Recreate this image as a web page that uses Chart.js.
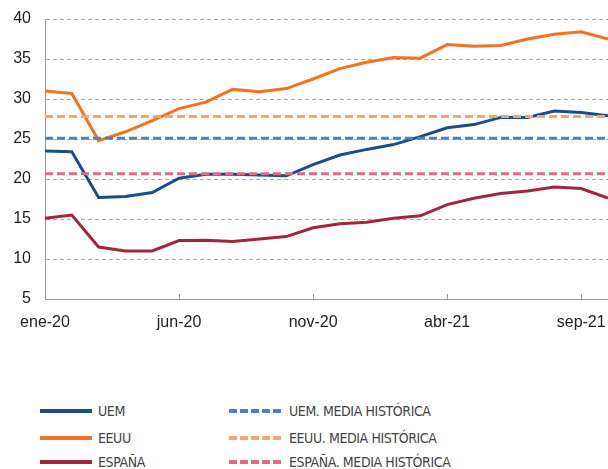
<!DOCTYPE html>
<html lang="es">
<head>
<meta charset="utf-8">
<script src="https://cdn.jsdelivr.net/npm/chart.js@4.4.1/dist/chart.umd.min.js"></script>
<style>
  html, body { margin: 0; padding: 0; background: #fff; }
  #wrap { position: relative; width: 608px; height: 469px; overflow: hidden; }
  #chart { position: absolute; left: 0; top: 0; }
  .leg {
    position: absolute;
    font-family: "Liberation Sans Narrow", "DejaVu Sans Condensed", sans-serif;
    font-size: 14px;
    letter-spacing: -0.4px;
    color: #444;
    white-space: nowrap;
    line-height: 16px;
  }
  .leg .sw { position: absolute; width: 52px; height: 4px; top: 6px; left: 0; }
  .leg span { position: absolute; top: 0; }
</style>
</head>
<body>
<div id="wrap">
  <canvas id="chart" width="608" height="340"></canvas>
  <div id="legend"></div>
</div>
<script>
// meses, ene-20 .. oct-21
const months = [
  "ene-20", "feb-20", "mar-20", "abr-20", "may-20", "jun-20",
  "jul-20", "ago-20", "sep-20", "oct-20", "nov-20", "dic-20",
  "ene-21", "feb-21", "mar-21", "abr-21", "may-21", "jun-21",
  "jul-21", "ago-21", "sep-21", "oct-21"
];

const uem = [23.5, 23.4, 17.7, 17.8, 18.3, 20.1, 20.6, 20.6, 20.5, 20.4, 21.8,
  23.0, 23.7, 24.3, 25.3, 26.4, 26.8, 27.7, 27.7, 28.5, 28.3, 27.9];
const eeuu = [31.0, 30.7, 24.8, 25.9, 27.3, 28.8, 29.6, 31.2, 30.9, 31.3, 32.5,
  33.8, 34.6, 35.2, 35.1, 36.8, 36.6, 36.7, 37.5, 38.1, 38.4, 37.5];
const espana = [15.1, 15.5, 11.5, 11.0, 11.0, 12.3, 12.35, 12.2, 12.5, 12.8, 13.9,
  14.4, 14.6, 15.1, 15.4, 16.8, 17.6, 18.2, 18.5, 19.0, 18.8, 17.6];

// medias historicas (constantes)
const uemMedia = 25.1;
const eeuuMedia = 27.8;
const espanaMedia = 20.65;

const yTicks = [5, 10, 15, 20, 25, 30, 35, 40];

function flat(v) {
  return months.map(() => v);
}

const series = [
  { label: "UEM", data: uem, color: "#1b4c8c", dash: false, col: 0, row: 0 },
  { label: "EEUU", data: eeuu, color: "#f37321", dash: false, col: 0, row: 1 },
  { label: "ESPAÑA", data: espana, color: "#a1273f", dash: false, col: 0, row: 2 },
  { label: "UEM. MEDIA HISTÓRICA", data: flat(uemMedia), color: "#4a80c6", dash: true, col: 1, row: 0 },
  { label: "EEUU. MEDIA HISTÓRICA", data: flat(eeuuMedia), color: "#f9a46c", dash: true, col: 1, row: 1 },
  { label: "ESPAÑA. MEDIA HISTÓRICA", data: flat(espanaMedia), color: "#e06b7c", dash: true, col: 1, row: 2 }
];

// small tick marks pointing up into the plot, like the original
const inwardTicks = {
  id: "inwardTicks",
  beforeDatasetsDraw(chart) {
    const x = chart.scales.x;
    const ctx = chart.ctx;
    ctx.save();
    ctx.strokeStyle = "#999";
    ctx.lineWidth = 1;
    x.ticks.forEach((t, i) => {
      if (i % 5 !== 0) return;
      const px = Math.round(x.getPixelForTick(i)) + 0.5;
      ctx.beginPath();
      ctx.moveTo(px, x.top - 5);
      ctx.lineTo(px, x.top);
      ctx.stroke();
    });
    ctx.restore();
  }
};

const chart = new Chart(document.getElementById("chart"), {
  type: "line",
  data: {
    labels: months,
    datasets: series.map(s => ({
      label: s.label,
      data: s.data,
      borderColor: s.color,
      backgroundColor: s.color,
      borderWidth: 3,
      borderDash: s.dash ? [8, 4] : [],
      pointRadius: 0,
      tension: 0,
      fill: false,
      order: s.dash ? 0 : 1
    }))
  },
  options: {
    responsive: false,
    animation: false,
    events: [],
    layout: { padding: { top: 19, right: 0, bottom: 0, left: 0 } },
    plugins: {
      legend: { display: false },
      tooltip: { enabled: false }
    },
    scales: {
      x: {
        offset: false,
        grid: { display: false, tickLength: 14 },
        border: { display: true, color: "#999", width: 1 },
        ticks: {
          autoSkip: false,
          maxRotation: 0,
          padding: 0,
          color: "#222",
          font: { family: "'Liberation Sans', Arial, sans-serif", size: 16 },
          callback: (v, i) => (i % 5 === 0 ? months[i] : "")
        },
        afterFit: s => { s.height = 41; }
      },
      y: {
        min: 5,
        max: 40,
        afterBuildTicks: s => { s.ticks = yTicks.map(v => ({ value: v })); },
        grid: {
          drawTicks: true,
          tickLength: 6,
          tickColor: "rgba(0,0,0,0)",
          color: c => (c.tick && c.tick.value === 5 ? "rgba(0,0,0,0)" : "#aaa"),
          lineWidth: 1
        },
        border: { display: true, color: "#999", width: 1, dash: [4, 3] },
        ticks: {
          padding: 8,
          color: "#222",
          font: { family: "'Liberation Sans', Arial, sans-serif", size: 16 }
        },
        afterFit: s => { s.width = 45; }
      }
    }
  },
  plugins: [inwardTicks]
});

// legend in two columns below the chart
const legendDiv = document.getElementById("legend");
const colX = [40, 229];
const textX = [58, 60];
const rowY = [403, 430, 454];
chart.data.datasets.forEach((ds, i) => {
  const s = series[i];
  const item = document.createElement("div");
  item.className = "leg";
  item.style.left = colX[s.col] + "px";
  item.style.top = rowY[s.row] + "px";
  const sw = s.dash
    ? `background: repeating-linear-gradient(to right, ${s.color} 0 8px, transparent 8px 11px);`
    : `background: ${s.color};`;
  item.innerHTML = `<div class="sw" style="${sw}"></div><span style="left:${textX[s.col]}px">${ds.label}</span>`;
  legendDiv.appendChild(item);
});
</script>
</body>
</html>
